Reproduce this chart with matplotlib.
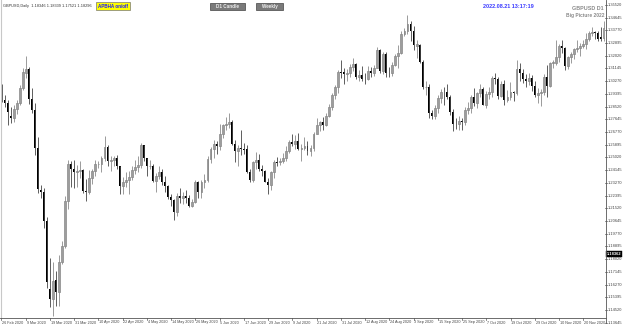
import matplotlib
matplotlib.use("Agg")
import matplotlib.pyplot as plt
from matplotlib.patches import Rectangle
from matplotlib.lines import Line2D
import matplotlib.transforms as mtransforms
import numpy as np

plt.rcParams['font.family'] = ['Liberation Sans', 'DejaVu Sans']

# GBPUSD daily, 26 Feb 2020 .. 1 Dec 2020
opens = [
    1.2995, 1.2895, 1.2880, 1.2790, 1.2770, 1.2835, 1.2880, 1.2980, 1.3085, 1.3110,
    1.2905, 1.2830, 1.2570, 1.2280, 1.2265, 1.2065, 1.1600, 1.1530, 1.1660, 1.1575,
    1.1780, 1.1890, 1.2200, 1.2460, 1.2420, 1.2405, 1.2410, 1.2415, 1.2270, 1.2265,
    1.2360, 1.2410, 1.2455, 1.2460, 1.2500, 1.2575, 1.2480, 1.2485, 1.2495, 1.2440,
    1.2305, 1.2330, 1.2345, 1.2365, 1.2415, 1.2435, 1.2450, 1.2590, 1.2495, 1.2440,
    1.2440, 1.2340, 1.2375, 1.2405, 1.2335, 1.2305, 1.2230, 1.2210, 1.2125, 1.2235,
    1.2225, 1.2240, 1.2220, 1.2165, 1.2195, 1.2335, 1.2265, 1.2335, 1.2345, 1.2490,
    1.2560, 1.2595, 1.2580, 1.2665, 1.2725, 1.2735, 1.2745, 1.2595, 1.2545, 1.2570,
    1.2560, 1.2560, 1.2405, 1.2350, 1.2470, 1.2485, 1.2420, 1.2410, 1.2335, 1.2315,
    1.2400, 1.2470, 1.2470, 1.2475, 1.2500, 1.2545, 1.2610, 1.2595, 1.2615, 1.2560,
    1.2570, 1.2580, 1.2545, 1.2570, 1.2665, 1.2725, 1.2745, 1.2725, 1.2790, 1.2850,
    1.2935, 1.2990, 1.3090, 1.3090, 1.3075, 1.3080, 1.3125, 1.3145, 1.3055, 1.3070,
    1.3045, 1.3045, 1.3095, 1.3085, 1.3120, 1.3240, 1.3095, 1.3215, 1.3085, 1.3085,
    1.3140, 1.3200, 1.3220, 1.3350, 1.3370, 1.3420, 1.3375, 1.3270, 1.3275, 1.3160,
    1.2985, 1.2990, 1.2805, 1.2790, 1.2845, 1.2910, 1.2955, 1.2950, 1.2920, 1.2815,
    1.2735, 1.2730, 1.2755, 1.2745, 1.2830, 1.2845, 1.2920, 1.2880, 1.2945, 1.2970,
    1.2865, 1.2940, 1.2950, 1.3050, 1.3045, 1.2925, 1.3010, 1.2900, 1.2915, 1.2950,
    1.2945, 1.3110, 1.3085, 1.3045, 1.3030, 1.3050, 1.2995, 1.2930, 1.2945, 1.2950,
    1.3055, 1.2995, 1.3150, 1.3155, 1.3190, 1.3270, 1.3255, 1.3130, 1.3190, 1.3215,
    1.3245, 1.3255, 1.3270, 1.3285, 1.3315, 1.3355, 1.3365, 1.3355, 1.3330, 1.3325,
]
highs = [
    1.3010, 1.2930, 1.2895, 1.2850, 1.2860, 1.2900, 1.3000, 1.3120, 1.3200, 1.3125,
    1.2980, 1.2875, 1.2640, 1.2310, 1.2290, 1.2090, 1.1810, 1.1780, 1.1720, 1.1830,
    1.1930, 1.2240, 1.2485, 1.2475, 1.2485, 1.2450, 1.2480, 1.2425, 1.2355, 1.2415,
    1.2420, 1.2485, 1.2480, 1.2515, 1.2647, 1.2590, 1.2510, 1.2515, 1.2520, 1.2445,
    1.2365, 1.2405, 1.2410, 1.2440, 1.2485, 1.2515, 1.2600, 1.2590, 1.2500, 1.2485,
    1.2460, 1.2395, 1.2440, 1.2420, 1.2375, 1.2310, 1.2250, 1.2215, 1.2255, 1.2295,
    1.2265, 1.2275, 1.2245, 1.2215, 1.2345, 1.2340, 1.2345, 1.2385, 1.2510, 1.2575,
    1.2620, 1.2615, 1.2730, 1.2735, 1.2780, 1.2810, 1.2760, 1.2620, 1.2585, 1.2690,
    1.2600, 1.2590, 1.2425, 1.2480, 1.2540, 1.2525, 1.2450, 1.2415, 1.2360, 1.2410,
    1.2485, 1.2505, 1.2500, 1.2535, 1.2580, 1.2625, 1.2665, 1.2655, 1.2670, 1.2595,
    1.2645, 1.2615, 1.2585, 1.2680, 1.2770, 1.2755, 1.2780, 1.2810, 1.2870, 1.2945,
    1.3000, 1.3105, 1.3170, 1.3120, 1.3110, 1.3145, 1.3185, 1.3150, 1.3105, 1.3130,
    1.3080, 1.3130, 1.3125, 1.3140, 1.3265, 1.3250, 1.3225, 1.3230, 1.3125, 1.3160,
    1.3215, 1.3275, 1.3370, 1.3395, 1.3482, 1.3440, 1.3405, 1.3310, 1.3280, 1.3170,
    1.3030, 1.3010, 1.2830, 1.2865, 1.2935, 1.2975, 1.2990, 1.3005, 1.2935, 1.2835,
    1.2775, 1.2790, 1.2775, 1.2850, 1.2885, 1.2935, 1.2980, 1.2955, 1.3010, 1.2990,
    1.2960, 1.2985, 1.3065, 1.3085, 1.3055, 1.3030, 1.3035, 1.2965, 1.3020, 1.2960,
    1.3175, 1.3150, 1.3110, 1.3075, 1.3085, 1.3070, 1.3025, 1.2980, 1.2975, 1.3075,
    1.3140, 1.3160, 1.3175, 1.3312, 1.3285, 1.3310, 1.3260, 1.3200, 1.3230, 1.3255,
    1.3310, 1.3290, 1.3310, 1.3355, 1.3375, 1.3400, 1.3375, 1.3375, 1.3400, 1.3442,
]
lows = [
    1.2885, 1.2850, 1.2725, 1.2740, 1.2745, 1.2800, 1.2860, 1.2965, 1.3050, 1.2870,
    1.2805, 1.2520, 1.2260, 1.2225, 1.2015, 1.1605, 1.1470, 1.1409, 1.1480, 1.1480,
    1.1770, 1.1880, 1.2150, 1.2300, 1.2290, 1.2300, 1.2360, 1.2255, 1.2200, 1.2250,
    1.2320, 1.2375, 1.2430, 1.2400, 1.2480, 1.2445, 1.2410, 1.2440, 1.2420, 1.2250,
    1.2250, 1.2300, 1.2250, 1.2345, 1.2385, 1.2400, 1.2430, 1.2475, 1.2375, 1.2425,
    1.2330, 1.2265, 1.2355, 1.2315, 1.2265, 1.2215, 1.2165, 1.2075, 1.2100, 1.2190,
    1.2185, 1.2190, 1.2160, 1.2160, 1.2190, 1.2220, 1.2225, 1.2290, 1.2335, 1.2465,
    1.2500, 1.2525, 1.2555, 1.2635, 1.2690, 1.2705, 1.2590, 1.2470, 1.2440, 1.2520,
    1.2525, 1.2395, 1.2335, 1.2335, 1.2420, 1.2410, 1.2375, 1.2330, 1.2250, 1.2275,
    1.2360, 1.2440, 1.2450, 1.2465, 1.2480, 1.2530, 1.2580, 1.2560, 1.2555, 1.2480,
    1.2550, 1.2520, 1.2510, 1.2545, 1.2660, 1.2685, 1.2690, 1.2720, 1.2780, 1.2830,
    1.2905, 1.2945, 1.3050, 1.3005, 1.3025, 1.3055, 1.3100, 1.3045, 1.3030, 1.3025,
    1.3005, 1.3035, 1.3055, 1.3065, 1.3115, 1.3085, 1.3075, 1.3055, 1.3055, 1.3060,
    1.3130, 1.3120, 1.3215, 1.3340, 1.3350, 1.3305, 1.3240, 1.3185, 1.3155, 1.2970,
    1.2935, 1.2775, 1.2765, 1.2765, 1.2810, 1.2880, 1.2865, 1.2905, 1.2795, 1.2685,
    1.2700, 1.2690, 1.2690, 1.2725, 1.2800, 1.2810, 1.2855, 1.2845, 1.2915, 1.2860,
    1.2845, 1.2905, 1.2920, 1.3010, 1.2905, 1.2915, 1.2865, 1.2885, 1.2895, 1.2890,
    1.2935, 1.3030, 1.3015, 1.2985, 1.3000, 1.2960, 1.2915, 1.2880, 1.2855, 1.2935,
    1.2915, 1.2985, 1.3115, 1.3135, 1.3160, 1.3220, 1.3105, 1.3110, 1.3155, 1.3180,
    1.3225, 1.3200, 1.3255, 1.3250, 1.3300, 1.3340, 1.3315, 1.3300, 1.3300, 1.3300,
]
closes = [
    1.2895, 1.2880, 1.2815, 1.2770, 1.2835, 1.2880, 1.2980, 1.3090, 1.3110, 1.2905,
    1.2830, 1.2570, 1.2285, 1.2265, 1.2065, 1.1645, 1.1530, 1.1650, 1.1575, 1.1780,
    1.1890, 1.2200, 1.2460, 1.2420, 1.2405, 1.2410, 1.2415, 1.2270, 1.2265, 1.2360,
    1.2410, 1.2455, 1.2460, 1.2500, 1.2575, 1.2480, 1.2485, 1.2495, 1.2440, 1.2305,
    1.2330, 1.2345, 1.2365, 1.2415, 1.2435, 1.2450, 1.2590, 1.2495, 1.2440, 1.2445,
    1.2340, 1.2375, 1.2405, 1.2335, 1.2305, 1.2230, 1.2210, 1.2125, 1.2235, 1.2225,
    1.2240, 1.2220, 1.2165, 1.2195, 1.2335, 1.2265, 1.2335, 1.2345, 1.2490, 1.2560,
    1.2595, 1.2580, 1.2665, 1.2725, 1.2735, 1.2745, 1.2595, 1.2545, 1.2570, 1.2560,
    1.2555, 1.2405, 1.2350, 1.2470, 1.2485, 1.2420, 1.2410, 1.2335, 1.2315, 1.2400,
    1.2470, 1.2465, 1.2475, 1.2500, 1.2545, 1.2610, 1.2595, 1.2615, 1.2560, 1.2570,
    1.2580, 1.2545, 1.2570, 1.2665, 1.2725, 1.2745, 1.2725, 1.2790, 1.2850, 1.2935,
    1.2990, 1.3090, 1.3085, 1.3075, 1.3080, 1.3125, 1.3145, 1.3055, 1.3070, 1.3045,
    1.3040, 1.3095, 1.3085, 1.3120, 1.3240, 1.3095, 1.3215, 1.3085, 1.3080, 1.3140,
    1.3200, 1.3220, 1.3350, 1.3370, 1.3420, 1.3375, 1.3275, 1.3280, 1.3160, 1.2985,
    1.2990, 1.2805, 1.2790, 1.2845, 1.2910, 1.2955, 1.2950, 1.2920, 1.2815, 1.2735,
    1.2730, 1.2755, 1.2745, 1.2830, 1.2845, 1.2920, 1.2880, 1.2945, 1.2970, 1.2865,
    1.2940, 1.2950, 1.3050, 1.3045, 1.2925, 1.3010, 1.2900, 1.2915, 1.2950, 1.2945,
    1.3110, 1.3085, 1.3045, 1.3030, 1.3050, 1.2995, 1.2930, 1.2945, 1.2950, 1.3055,
    1.2995, 1.3150, 1.3160, 1.3190, 1.3270, 1.3255, 1.3130, 1.3190, 1.3215, 1.3245,
    1.3255, 1.3270, 1.3285, 1.3315, 1.3355, 1.3365, 1.3355, 1.3320, 1.3315, 1.3390,
]

date_labels = [
    "26 Feb 2020", "9 Mar 2020", "19 Mar 2020", "31 Mar 2020", "10 Apr 2020",
    "22 Apr 2020", "4 May 2020", "14 May 2020", "26 May 2020", "5 Jun 2020",
    "17 Jun 2020", "29 Jun 2020", "9 Jul 2020", "21 Jul 2020", "31 Jul 2020",
    "12 Aug 2020", "24 Aug 2020", "3 Sep 2020", "15 Sep 2020", "25 Sep 2020",
    "7 Oct 2020", "19 Oct 2020", "29 Oct 2020", "10 Nov 2020", "20 Nov 2020",
]
date_bars = [0, 8, 16, 24, 32, 40, 48, 56, 64, 72, 80, 88, 96, 104, 112,
             120, 128, 136, 144, 152, 160, 168, 176, 184, 192]

price_labels = [
    "1.35520", "1.34645", "1.33770", "1.32895", "1.32020", "1.31145", "1.30270",
    "1.29395", "1.28520", "1.27645", "1.26770", "1.25895", "1.25020", "1.24145",
    "1.23270", "1.22395", "1.21520", "1.20645", "1.19770", "1.18895", "1.18020",
    "1.17145", "1.16270", "1.15395", "1.14520", "1.13645",
]
last_price = 1.18362

W, H = 625, 328
fig = plt.figure(figsize=(W / 100, H / 100), dpi=100)
fig.patch.set_facecolor("white")

def fx(px):
    return px / W

def fy(py):
    return 1 - py / H

# chart area: 0..605 px wide, 0..317 px tall
ax = fig.add_axes([0, fy(317), fx(605), 317 / H])
ax.set_xlim(-0.5, 199.2)
ax.set_ylim(1.3482 - 302 * 0.000688, 1.3482 + 15 * 0.000688)
ax.axis("off")

o = np.array(opens)
h = np.array(highs)
l = np.array(lows)
c = np.array(closes)
x = np.arange(len(c))
up = c >= o

ax.vlines(x[up], l[up], h[up], color="#8a8a8a", lw=0.6)
ax.vlines(x[~up], l[~up], h[~up], color="#444444", lw=0.6)
ax.bar(x[up], c[up] - o[up], bottom=o[up], width=0.62,
       facecolor="white", edgecolor="#8a8a8a", lw=0.6)
ax.bar(x[~up], o[~up] - c[~up], bottom=c[~up], width=0.62,
       color="black", lw=0)

# frame lines
fig.add_artist(Line2D([fx(0.5), fx(0.5)], [fy(0), fy(317)], color="#c8c8c8", lw=0.8))
fig.add_artist(Line2D([fx(605.5), fx(605.5)], [fy(0), fy(323)], color="#555555", lw=0.6))
fig.add_artist(Line2D([fx(0), fx(605.5)], [fy(317.5), fy(317.5)], color="#555555", lw=0.6))

# price scale
trans = mtransforms.blended_transform_factory(ax.transAxes, ax.transData)
for lab in price_labels:
    p = float(lab)
    ax.add_line(Line2D([1.0, 1.003], [p, p], transform=trans, color="#555555",
                       lw=0.5, clip_on=False))
    ax.text(1.0045, p, lab, transform=trans, fontsize=2.9, color="#444444",
            va="center", ha="left", clip_on=False)

ax.text(1.003, last_price, "1.18362", transform=trans, fontsize=2.9,
        color="white", fontweight="bold", va="center", ha="left", clip_on=False,
        bbox=dict(boxstyle="square,pad=0.2", fc="black", ec="black", lw=0.3))

# date scale
for b, lab in zip(date_bars, date_labels):
    xp = 1.5 + b * 3.03
    fig.add_artist(Line2D([fx(xp), fx(xp)], [fy(317.5), fy(320)], color="#555555", lw=0.5))
    fig.text(fx(xp + 0.8), fy(322.5), lab, fontsize=2.7, color="#444444",
             ha="left", va="center")

# header widgets
fig.text(fx(3), fy(6), "GBPUSD,Daily  1.18346 1.18339 1.17521 1.18296",
         fontsize=2.8, color="#333333", ha="left", va="center")

fig.add_artist(Rectangle((fx(96), fy(10)), fx(34), 8 / H, transform=fig.transFigure,
                         facecolor="#ffff00", edgecolor="#777777", lw=0.5))
fig.text(fx(113), fy(6), "APBHA on/off", fontsize=3.3, color="#1a1aff",
         fontweight="bold", ha="center", va="center")

for x0, w, lab in [(210, 35, "D1 Candle"), (256, 27, "Weekly")]:
    fig.add_artist(Rectangle((fx(x0), fy(10)), fx(w), 7.5 / H, transform=fig.transFigure,
                             facecolor="#7a7a7a", edgecolor="#444444", lw=0.5))
    fig.text(fx(x0 + w / 2), fy(6.2), lab, fontsize=3.3, color="#eeeeee",
             fontweight="bold", ha="center", va="center")

fig.text(fx(508), fy(6), "2022.08.21 13:17:19", fontsize=4.0, color="#3b3bff",
         fontweight="bold", ha="center", va="center")
fig.text(fx(604), fy(8), "GBPUSD D1", fontsize=3.9, color="#8a8a8a",
         fontweight="bold", ha="right", va="center")
fig.text(fx(604), fy(16), "Big Picture 2022", fontsize=3.5, color="#8a8a8a",
         fontweight="bold", ha="right", va="center")

fig.savefig("out.png", dpi=100, facecolor="white")
